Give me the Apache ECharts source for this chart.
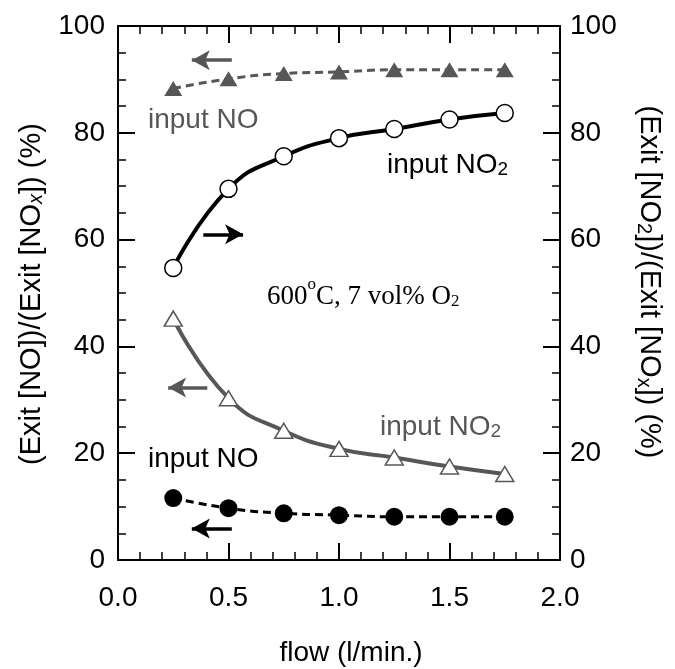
<!DOCTYPE html>
<html>
<head>
<meta charset="utf-8">
<script src="https://cdn.jsdelivr.net/npm/echarts@6/dist/echarts.min.js"></script>
<style>
html,body{margin:0;padding:0;background:#fff;}
#chart{width:675px;height:669px;}
</style>
</head>
<body>
<div id="chart"></div>
<script>
// ---- data ----
const flow = [0.25, 0.5, 0.75, 1.0, 1.25, 1.5, 1.75];
const noRatioInputNO   = [88.3, 90.1, 91.1, 91.4, 91.8, 91.8, 91.8];   // filled triangles, left axis
const no2RatioInputNO2 = [54.7, 69.5, 75.6, 79.0, 80.7, 82.5, 83.7];   // open circles, right axis
const noRatioInputNO2  = [45.2, 30.3, 24.2, 20.8, 19.2, 17.5, 16.1];   // open triangles, left axis
const no2RatioInputNO  = [11.6, 9.7, 8.75, 8.4, 8.1, 8.1, 8.1];        // filled circles, left axis
const xTicks = [0, 0.5, 1.0, 1.5, 2.0];
const yTicks = [0, 20, 40, 60, 80, 100];

const FONT = 'Liberation Sans';
const GRAY = '#575757';

function pairs(ys){ return flow.map((x,i)=>[x, ys[i]]); }

function xAx(pos, showLabel, secondary){
  return {
    type:'value', position:pos, min:xTicks[0], max:xTicks[xTicks.length-1], interval:0.5,
    axisLine:{show:true, onZero:!secondary, lineStyle:{color:'#000', width:2}},
    axisTick:{show:true, inside:true, length:17, lineStyle:{color:'#000', width:2}},
    minorTick:{show:true, splitNumber:5, length:8, lineStyle:{color:'#000', width:1.5}},
    splitLine:{show:false},
    axisLabel:{show:showLabel, formatter:v=>v.toFixed(1), fontSize:28, fontFamily:FONT, color:'#000', margin:24}
  };
}
function yAx(pos, secondary){
  return {
    type:'value', position:pos, min:yTicks[0], max:yTicks[yTicks.length-1], interval:20,
    axisLine:{show:true, onZero:!secondary, lineStyle:{color:'#000', width:2}},
    axisTick:{show:true, inside:true, length:17, lineStyle:{color:'#000', width:2}},
    minorTick:{show:true, splitNumber:4, length:8, lineStyle:{color:'#000', width:1.5}},
    splitLine:{show:false},
    axisLabel:{show:true, fontSize:28, fontFamily:FONT, color:'#000', margin: pos==='left'?13:10}
  };
}
function arrow(color, from, to){
  return {
    silent:true, animation:false, symbol:['none','arrow'], symbolSize:[15,18],
    label:{show:false}, emphasis:{disabled:true},
    lineStyle:{color:color, width:3.5, type:'solid'},
    data:[[{coord:from},{coord:to}]]
  };
}

const chart = echarts.init(document.getElementById('chart'), null, {renderer:'canvas'});
const sub = {fontSize:19, fontFamily:FONT, verticalAlign:'bottom', lineHeight:19};

chart.setOption({
  animation:false,
  backgroundColor:'#fff',
  grid:{left:118, right:115, top:26, bottom:109, containLabel:false},
  xAxis:[xAx('bottom', true, false), xAx('top', false, true)],
  yAxis:[yAx('left', false), yAx('right', true)],
  series:[
    {
      name:'NO ratio, input NO', type:'line', xAxisIndex:0, yAxisIndex:0,
      data:pairs(noRatioInputNO), smooth:true,
      symbol:'triangle', symbolSize:[18,15],
      itemStyle:{color:GRAY},
      lineStyle:{color:GRAY, width:3, type:[8,5]},
      markLine:arrow(GRAY, [0.515, 93.6], [0.334, 93.6])
    },
    {
      name:'NO2 ratio, input NO2', type:'line', xAxisIndex:0, yAxisIndex:1,
      data:pairs(no2RatioInputNO2), smooth:true,
      symbol:'circle', symbolSize:17,
      itemStyle:{color:'#fff', borderColor:'#000', borderWidth:1.5},
      lineStyle:{color:'#000', width:4},
      markLine:arrow('#000', [0.386, 61.0], [0.566, 61.0])
    },
    {
      name:'NO ratio, input NO2', type:'line', xAxisIndex:0, yAxisIndex:0,
      data:pairs(noRatioInputNO2), smooth:true,
      symbol:'triangle', symbolSize:[18,15],
      itemStyle:{color:'#fff', borderColor:GRAY, borderWidth:1.5},
      lineStyle:{color:GRAY, width:4},
      markLine:arrow(GRAY, [0.404, 32.3], [0.227, 32.3])
    },
    {
      name:'NO2 ratio, input NO', type:'line', xAxisIndex:0, yAxisIndex:0,
      data:pairs(no2RatioInputNO), smooth:true,
      symbol:'circle', symbolSize:18,
      itemStyle:{color:'#000'},
      lineStyle:{color:'#000', width:3, type:[8,5]},
      markLine:arrow('#000', [0.515, 5.9], [0.334, 5.9])
    }
  ],
  graphic:[
    {type:'text', x:148, y:120, silent:true, style:{
      text:'input NO', fontSize:28, fontFamily:FONT, fill:GRAY, align:'left', verticalAlign:'middle'}},
    {type:'text', x:387, y:162, silent:true, style:{
      text:'{a|input NO}{s|2}', align:'left', verticalAlign:'middle',
      rich:{a:{fontSize:28, fontFamily:FONT, fill:'#000', lineHeight:34, verticalAlign:'bottom'}, s:Object.assign({fill:'#000'}, sub)}}},
    {type:'text', x:380, y:424, silent:true, style:{
      text:'{a|input NO}{s|2}', align:'left', verticalAlign:'middle',
      rich:{a:{fontSize:28, fontFamily:FONT, fill:GRAY, lineHeight:34, verticalAlign:'bottom'}, s:Object.assign({fill:GRAY}, sub)}}},
    {type:'text', x:148, y:459, silent:true, style:{
      text:'input NO', fontSize:28, fontFamily:FONT, fill:'#000', align:'left', verticalAlign:'middle'}},
    {type:'text', x:267, y:293, silent:true, style:{
      text:'{a|600}{o|o}{a|C, 7 vol% O}{s|2}', align:'left', verticalAlign:'middle',
      rich:{
        a:{fontSize:27, fontFamily:'Liberation Serif', fill:'#000', lineHeight:34, verticalAlign:'bottom'},
        o:{fontSize:17, fontFamily:'Liberation Serif', fill:'#000', lineHeight:17, verticalAlign:'top'},
        s:{fontSize:17, fontFamily:'Liberation Serif', fill:'#000', lineHeight:17, verticalAlign:'bottom'}
      }}},
    // axis titles
    {type:'text', x:351, y:653, silent:true, style:{
      text:'flow (l/min.)', fontSize:28, fontFamily:FONT, fill:'#000', align:'center', verticalAlign:'middle'}},
    {type:'text', x:28, y:294, rotation:Math.PI/2, silent:true, style:{
      text:'{a|(Exit [NO])/(Exit [NO}{x|x}{a|]) (%)}', align:'center', verticalAlign:'middle',
      rich:{a:{fontSize:29, fontFamily:FONT, fill:'#000', lineHeight:36, verticalAlign:'bottom'},
            x:{fontSize:20, fontFamily:FONT, fontStyle:'italic', fill:'#000', lineHeight:20, verticalAlign:'bottom'}}}},
    {type:'text', x:652, y:282, rotation:-Math.PI/2, silent:true, style:{
      text:'{a|(Exit [NO}{s|2}{a|])/(Exit [NO}{s|x}{a|]) (%)}', align:'center', verticalAlign:'middle',
      rich:{a:{fontSize:29, fontFamily:FONT, fill:'#000', lineHeight:36, verticalAlign:'bottom'},
            s:{fontSize:20, fontFamily:FONT, fill:'#000', lineHeight:20, verticalAlign:'bottom'}}}}
  ]
});
</script>
</body>
</html>
